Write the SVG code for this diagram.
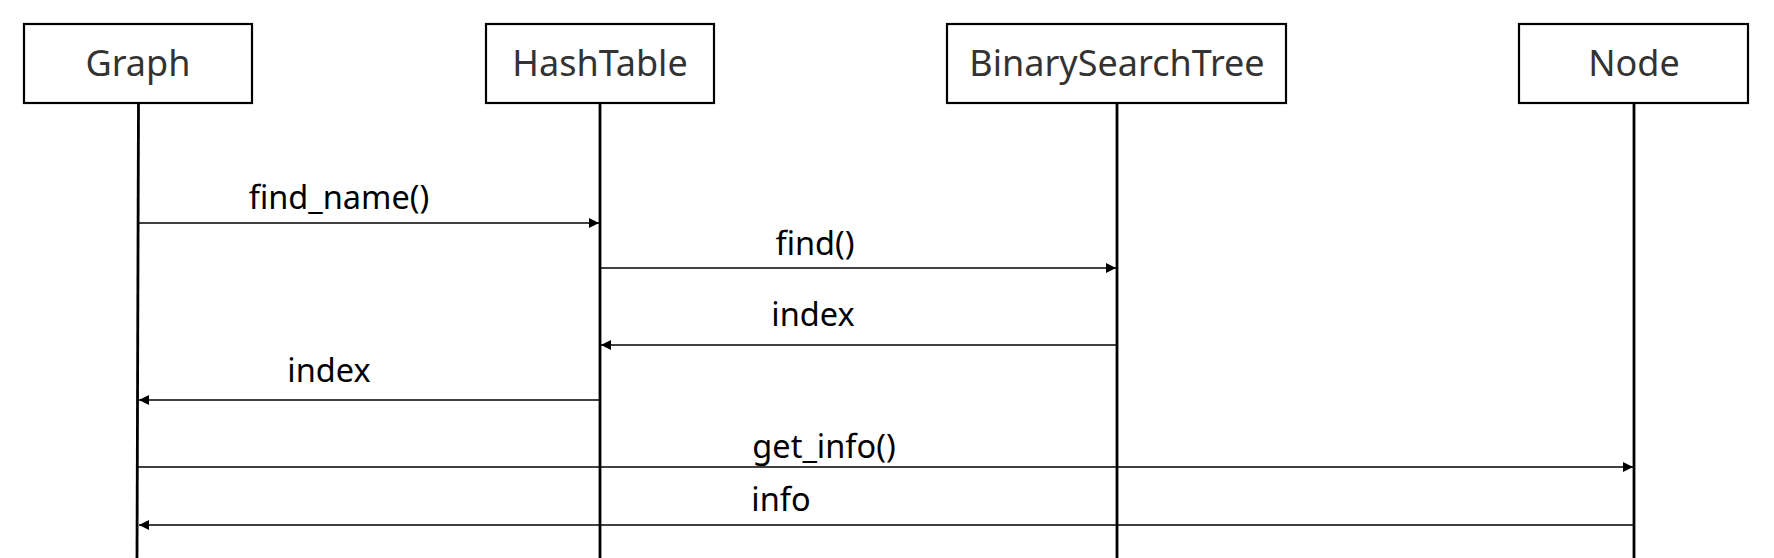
<svg xmlns="http://www.w3.org/2000/svg" width="1774" height="558" viewBox="0 0 1774 558">
<style>
.box{fill:#fff;stroke:#000;stroke-width:2.2}
.life{stroke:#000;stroke-width:2.8}
.msg{stroke:#000;stroke-width:1.4;fill:none}
.nt{font-family:"Noto Sans","Open Sans",sans-serif;font-size:36px;fill:#333;text-anchor:middle}
.ml{font-family:"Noto Sans","Open Sans",sans-serif;font-size:32.5px;fill:#000;text-anchor:middle}
</style>
<defs>
<marker id="ah" viewBox="0 0 10 10" refX="10" refY="5" markerWidth="11" markerHeight="10" markerUnits="userSpaceOnUse" orient="auto">
<path d="M0,0 L10,5 L0,10 Z" fill="#000"/>
</marker>
</defs>
<g id="graph">
<rect class="box" x="24" y="24" width="228" height="79"/>
<text class="nt" x="138" y="76">Graph</text>
<line class="life" x1="138.5" y1="103" x2="137" y2="558"/>
</g>
<g id="hashtable">
<rect class="box" x="486" y="24" width="228" height="79"/>
<text class="nt" x="600" y="76">HashTable</text>
<line class="life" x1="600" y1="103" x2="600" y2="558"/>
</g>
<g id="bst">
<rect class="box" x="947" y="24" width="339" height="79"/>
<text class="nt" x="1117" y="76">BinarySearchTree</text>
<line class="life" x1="1117" y1="103" x2="1117" y2="558"/>
</g>
<g id="node">
<rect class="box" x="1519" y="24" width="229" height="79"/>
<text class="nt" x="1634" y="76">Node</text>
<line class="life" x1="1634" y1="103" x2="1634" y2="558"/>
</g>
<g id="connectors">
<line class="msg" x1="138" y1="223" x2="599" y2="223" marker-end="url(#ah)"/>
<line class="msg" x1="600" y1="268" x2="1116" y2="268" marker-end="url(#ah)"/>
<line class="msg" x1="1117" y1="345" x2="601" y2="345" marker-end="url(#ah)"/>
<line class="msg" x1="600" y1="400" x2="139" y2="400" marker-end="url(#ah)"/>
<line class="msg" x1="138" y1="467" x2="1633" y2="467" marker-end="url(#ah)"/>
<line class="msg" x1="1634" y1="525" x2="139" y2="525" marker-end="url(#ah)"/>
</g>
<g id="labels">
<text class="ml" x="339" y="209">find_name()</text>
<text class="ml" x="815" y="255">find()</text>
<text class="ml" x="813" y="326">index</text>
<text class="ml" x="329" y="382">index</text>
<text class="ml" x="824" y="458">get_info()</text>
<text class="ml" x="781" y="511">info</text>
</g>
</svg>
